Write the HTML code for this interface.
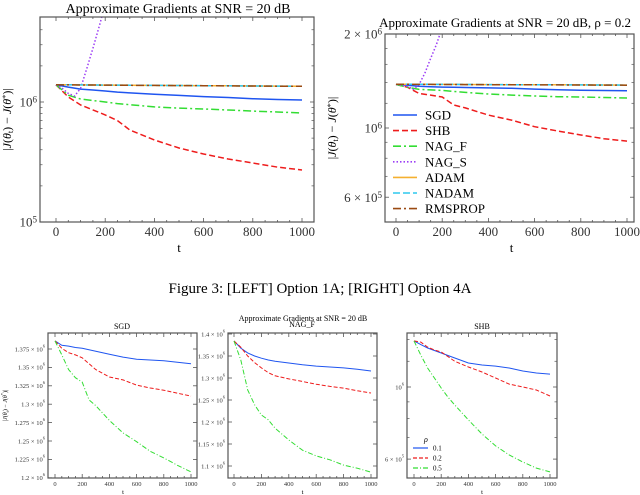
<!DOCTYPE html>
<html><head><meta charset="utf-8">
<style>
html,body{margin:0;padding:0;background:#fff;}
svg{display:block;font-family:"Liberation Serif",serif;}
</style></head>
<body>
<svg id="fig" width="640" height="495" viewBox="0 0 640 495" xmlns="http://www.w3.org/2000/svg">
<text x="320" y="293" text-anchor="middle" font-size="15">Figure 3: [LEFT] Option 1A; [RIGHT] Option 4A</text>
<text x="303" y="321" text-anchor="middle" font-size="8">Approximate Gradients at SNR = 20 dB</text>
</svg>
<script>
// ---------- data ----------
const tTop = [0,50,100,150,200,250,300,400,500,600,700,800,900,1000];
// top-left (values x1e6)
const tlSGD   = [1.39,1.33,1.28,1.26,1.235,1.21,1.19,1.16,1.135,1.11,1.09,1.065,1.05,1.04];
const tlSHB   = [1.39,1.10,0.944,0.86,0.78,0.70,0.584,0.482,0.414,0.369,0.335,0.31,0.287,0.271];
const tlNAGF  = [1.39,1.14,1.06,1.03,1.0,0.97,0.95,0.91,0.89,0.875,0.857,0.84,0.825,0.81];
const tNAGS   = [0,25,50,75,100,125,150,175,200];
const tlNAGS  = [1.39,1.3,1.18,1.12,1.3,1.9,2.8,4.2,6.5];
const tlADAM  = [1.39,1.39,1.388,1.386,1.384,1.382,1.38,1.376,1.372,1.368,1.364,1.36,1.356,1.352];
const tlNADAM = [1.39,1.39,1.388,1.386,1.384,1.382,1.38,1.376,1.372,1.368,1.364,1.36,1.356,1.352];
const tlRMS   = [1.39,1.389,1.387,1.385,1.383,1.381,1.379,1.375,1.371,1.367,1.363,1.359,1.355,1.351];
// top-right (values x1e6)
const trSGD   = [1.38,1.37,1.36,1.355,1.352,1.35,1.348,1.344,1.34,1.333,1.327,1.322,1.319,1.316];
const trSHB   = [1.38,1.35,1.29,1.275,1.257,1.185,1.16,1.10,1.06,1.01,0.978,0.95,0.924,0.908];
const trNAGF  = [1.38,1.35,1.33,1.325,1.32,1.31,1.30,1.285,1.275,1.266,1.26,1.257,1.252,1.248];
const trNAGS  = [1.38,1.37,1.36,1.33,1.38,1.5,1.67,1.85,2.1];
const trADAM  = [1.382,1.382,1.381,1.381,1.38,1.38,1.379,1.378,1.377,1.376,1.375,1.374,1.373,1.372];
const trNADAM = [1.382,1.382,1.381,1.381,1.38,1.38,1.379,1.378,1.377,1.376,1.375,1.374,1.373,1.372];
const trRMS   = [1.381,1.381,1.38,1.38,1.379,1.379,1.378,1.377,1.376,1.375,1.374,1.373,1.372,1.371];
// bottom panels
const tBot = [0,50,100,150,200,250,300,400,500,600,700,800,900,1000];
const sgdR1 = [1.386,1.38,1.379,1.377,1.376,1.374,1.372,1.368,1.364,1.361,1.36,1.359,1.357,1.355];
const sgdR2 = [1.386,1.376,1.37,1.367,1.363,1.355,1.347,1.337,1.333,1.326,1.322,1.319,1.315,1.311];
const sgdR5 = [1.386,1.367,1.347,1.336,1.33,1.306,1.298,1.278,1.261,1.249,1.236,1.227,1.217,1.208];
const nagR1 = [1.384,1.368,1.357,1.35,1.345,1.341,1.338,1.334,1.33,1.327,1.325,1.323,1.32,1.316];
const nagR2 = [1.384,1.37,1.35,1.335,1.323,1.312,1.305,1.298,1.292,1.286,1.281,1.277,1.271,1.266];
const nagR5 = [1.384,1.341,1.273,1.239,1.216,1.205,1.186,1.159,1.136,1.123,1.114,1.102,1.095,1.086];
const shbR1 = [1.386,1.35,1.318,1.295,1.272,1.25,1.228,1.185,1.169,1.16,1.144,1.12,1.104,1.096];
const shbR2 = [1.386,1.375,1.327,1.30,1.281,1.24,1.2,1.152,1.112,1.066,1.021,1.0,0.979,0.938];
const shbR5 = [1.386,1.254,1.144,1.066,0.993,0.93,0.88,0.792,0.717,0.659,0.618,0.588,0.563,0.548];
const xTickLabels = ["0","200","400","600","800","1000"];

const NS="http://www.w3.org/2000/svg";
const svg=document.getElementById('fig');
function mk(tag,attrs,parent){const e=document.createElementNS(NS,tag);for(const k in attrs)e.setAttribute(k,attrs[k]);(parent||svg).appendChild(e);return e;}

const C={SGD:"#1f55f0",SHB:"#ee1c1c",NAGF:"#33dd33",NAGS:"#9b3df5",ADAM:"#f5b030",NADAM:"#2ec8ee",RMS:"#9a4a12"};
const D={SGD:"",SHB:"6,3",NAGF:"8,3,2,3",NAGS:"1.5,2",ADAM:"",NADAM:"7,3",RMS:"8,3,2,3"};

function panel(p){
  const g=mk('g',{});
  
  
  const xs=t=>p.x0+(t-0)/1000*(p.x1-p.x0);
  const ys=v=>p.log?p.yRef-(Math.log10(v)-Math.log10(p.vRef))*p.pxDec:p.yRef-(v-p.vRef)/p.vStep*p.pxStep;
  const clip='clip-'+p.name;
  const cp=mk('clipPath',{id:clip},g);mk('rect',{x:p.L,y:p.T,width:p.R-p.L,height:p.B-p.T},cp);
  p.series.forEach(s=>{
    const pts=s.v.map((v,i)=>xs(s.t[i]).toFixed(1)+','+ys(v).toFixed(1)).join(' ');
    const pl=mk('polyline',{points:pts,fill:'none',stroke:s.c,'stroke-width':p.sw,'stroke-dasharray':s.d,'clip-path':'url(#'+clip+')'},g);
    
    
  });
  const fr=mk('rect',{x:p.L,y:p.T,width:p.R-p.L,height:p.B-p.T,fill:'none',stroke:'#555','stroke-width':1.2},g);
  
  
  for(let t=0;t<=1000;t+=50){
    const x=xs(t),len=t%200===0?4:2;
    mk('line',{x1:x,y1:p.B,x2:x,y2:p.B-len,stroke:'#555','stroke-width':0.8},g);
    mk('line',{x1:x,y1:p.T,x2:x,y2:p.T+len,stroke:'#555','stroke-width':0.8},g);
  }
  xTickLabels.forEach((l,i)=>{
    const tx=mk('text',{x:xs(i*200),y:p.B+p.xlOff,'text-anchor':'middle','font-size':p.fs,fill:'#333'},g);
    tx.textContent=l;
    
    
  });
  p.yt.forEach(yt=>{
    const y=ys(yt.v);
    mk('line',{x1:p.L,y1:y,x2:p.L+4,y2:y,stroke:'#555','stroke-width':0.8},g);
    mk('line',{x1:p.R,y1:y,x2:p.R-4,y2:y,stroke:'#555','stroke-width':0.8},g);
    const tx=mk('text',{x:p.L-3,y:y+p.fs*0.35,'text-anchor':'end','font-size':p.fs,fill:'#333'},g);
    tx.innerHTML=yt.l;
    
    
  });
  (p.minor||[]).forEach(v=>{const y=ys(v);if(y<p.T||y>p.B)return;
    mk('line',{x1:p.L,y1:y,x2:p.L+2.5,y2:y,stroke:'#555','stroke-width':0.7},g);
    mk('line',{x1:p.R,y1:y,x2:p.R-2.5,y2:y,stroke:'#555','stroke-width':0.7},g);});
  const ti=mk('text',{x:p.tx,y:p.ty,'text-anchor':'middle','font-size':p.tfs},g);
  ti.textContent=p.title;
  
  
  const xl=mk('text',{x:(p.x0+p.x1)/2,y:p.B+p.xtOff,'text-anchor':'middle','font-size':p.fs},g);
  xl.textContent='t';
  
  
  const yl=mk('text',{x:0,y:0,'text-anchor':'middle','font-size':p.yfs,transform:'translate('+p.ylx+','+((p.T+p.B)/2)+') rotate(-90)'},g);
  yl.innerHTML='|<tspan font-style="italic">J</tspan>(<tspan font-style="italic">θ</tspan><tspan font-size="70%" dy="2">t</tspan><tspan dy="-2">) − </tspan><tspan font-style="italic">J</tspan>(<tspan font-style="italic">θ</tspan><tspan font-size="70%" dy="-3">*</tspan><tspan dy="3">)|</tspan>';
  
  
  return {g,xs,ys};
}
const sup=(a,b)=>a+'<tspan font-size="70%" dy="-4">'+b+'</tspan>';

panel({name:'top-left-plot',L:40,R:314,T:17,B:222,x0:56,x1:302,log:true,yRef:102,vRef:1,pxDec:120,sw:1.5,fs:13,tfs:14,yfs:12,
  xlOff:14,xtOff:30,ylx:11,tx:178,ty:13,title:'Approximate Gradients at SNR = 20 dB',
  yt:[{v:1,l:sup('10','6')},{v:0.1,l:sup('10','5')}],minor:[0.2,0.3,0.4,0.5,0.6,0.7,0.8,0.9,2,3,4],
  series:[
   {name:'sgd-line',t:tTop,v:tlSGD,c:C.SGD,d:D.SGD},
   {name:'shb-line',t:tTop,v:tlSHB,c:C.SHB,d:D.SHB},
   {name:'nag-f-line',t:tTop,v:tlNAGF,c:C.NAGF,d:D.NAGF},
   {name:'nag-s-line',t:tNAGS,v:tlNAGS,c:C.NAGS,d:D.NAGS},
   {name:'adam-line',t:tTop,v:tlADAM,c:C.ADAM,d:D.ADAM},
   {name:'nadam-line',t:tTop,v:tlNADAM,c:C.NADAM,d:D.NADAM},
   {name:'rmsprop-line',t:tTop,v:tlRMS,c:C.RMS,d:D.RMS}]});

panel({name:'top-right-plot',L:385,R:634,T:34,B:222,x0:396,x1:627,log:true,yRef:128,vRef:1,pxDec:312,sw:1.5,fs:13,tfs:13,yfs:12,
  xlOff:14,xtOff:30,ylx:336,tx:505,ty:27,title:'Approximate Gradients at SNR = 20 dB, ρ = 0.2',
  yt:[{v:2,l:'2 × '+sup('10','6')},{v:1,l:sup('10','6')},{v:0.6,l:'6 × '+sup('10','5')}],minor:[0.5,0.7,0.8,0.9,1.2,1.4,1.6,1.8],
  series:[
   {name:'sgd-line',t:tTop,v:trSGD,c:C.SGD,d:D.SGD},
   {name:'shb-line',t:tTop,v:trSHB,c:C.SHB,d:D.SHB},
   {name:'nag-f-line',t:tTop,v:trNAGF,c:C.NAGF,d:D.NAGF},
   {name:'nag-s-line',t:tNAGS,v:trNAGS,c:C.NAGS,d:D.NAGS},
   {name:'adam-line',t:tTop,v:trADAM,c:C.ADAM,d:D.ADAM},
   {name:'nadam-line',t:tTop,v:trNADAM,c:C.NADAM,d:D.NADAM},
   {name:'rmsprop-line',t:tTop,v:trRMS,c:C.RMS,d:D.RMS}]});

const legNames=['SGD','SHB','NAG_F','NAG_S','ADAM','NADAM','RMSPROP'];
const legKeys=['SGD','SHB','NAGF','NAGS','ADAM','NADAM','RMS'];
legNames.forEach((n,i)=>{
  const y=115+i*15.6;
  const g=mk('g',{});
  
  
  mk('line',{x1:393,y1:y,x2:417,y2:y,stroke:C[legKeys[i]],'stroke-width':1.6,'stroke-dasharray':D[legKeys[i]]},g);
  const t=mk('text',{x:425,y:y+4.5,'font-size':13},g);t.textContent=n;
});

const lin=(a,b,s)=>{const r=[];for(let v=a;v<=b+1e-9;v+=s)r.push(+v.toFixed(4));return r;};
panel({name:'sgd-panel',L:48,R:197,T:333,B:478,x0:55,x1:191,log:false,yRef:349,vRef:1.375,vStep:0.025,pxStep:18.4,sw:1,fs:6.5,tfs:8,yfs:6,
  xlOff:8,xtOff:16,ylx:7,tx:122,ty:329,title:'SGD',
  yt:lin(1.2,1.375,0.025).map(v=>({v,l:(v===1.3||v===1.2?v.toFixed(1):String(v))+' × '+sup('10','6')})),
  series:[{name:'rho-0.1-line',t:tBot,v:sgdR1,c:C.SGD,d:''},{name:'rho-0.2-line',t:tBot,v:sgdR2,c:C.SHB,d:'4,2'},{name:'rho-0.5-line',t:tBot,v:sgdR5,c:C.NAGF,d:'5,2,1,2'}]});
panel({name:'nag-f-panel',L:228,R:377,T:333,B:478,x0:234,x1:371,log:false,yRef:334,vRef:1.4,vStep:0.05,pxStep:22,sw:1,fs:6.5,tfs:8,yfs:6,
  xlOff:8,xtOff:16,ylx:-50,tx:302,ty:327,title:'NAG_F',
  yt:lin(1.1,1.4,0.05).map(v=>({v,l:String(v)+' × '+sup('10','6')})),
  series:[{name:'rho-0.1-line',t:tBot,v:nagR1,c:C.SGD,d:''},{name:'rho-0.2-line',t:tBot,v:nagR2,c:C.SHB,d:'4,2'},{name:'rho-0.5-line',t:tBot,v:nagR5,c:C.NAGF,d:'5,2,1,2'}]});
panel({name:'shb-panel',L:407,R:557,T:333,B:478,x0:414,x1:550,log:true,yRef:387,vRef:1,pxDec:325,sw:1,fs:6.5,tfs:8,yfs:6,
  xlOff:8,xtOff:16,ylx:-50,tx:482,ty:329,title:'SHB',
  yt:[{v:1,l:sup('10','6')},{v:0.6,l:'6 × '+sup('10','5')}],minor:[0.7,0.8,0.9,1.2,1.4],
  series:[{name:'rho-0.1-line',t:tBot,v:shbR1,c:C.SGD,d:''},{name:'rho-0.2-line',t:tBot,v:shbR2,c:C.SHB,d:'4,2'},{name:'rho-0.5-line',t:tBot,v:shbR5,c:C.NAGF,d:'5,2,1,2'}]});

const lt=mk('text',{x:424,y:442,'font-size':8,'font-style':'italic'});
lt.textContent='ρ';


[['0.1',C.SGD,''],['0.2',C.SHB,'4,2'],['0.5',C.NAGF,'5,2,1,2']].forEach((e,i)=>{
  const y=448+i*10;
  const g=mk('g',{});
  
  
  mk('line',{x1:413,y1:y,x2:428,y2:y,stroke:e[1],'stroke-width':1.2,'stroke-dasharray':e[2]},g);
  const t=mk('text',{x:433,y:y+2.5,'font-size':7},g);t.textContent=e[0];
});
</script>
</body></html>
